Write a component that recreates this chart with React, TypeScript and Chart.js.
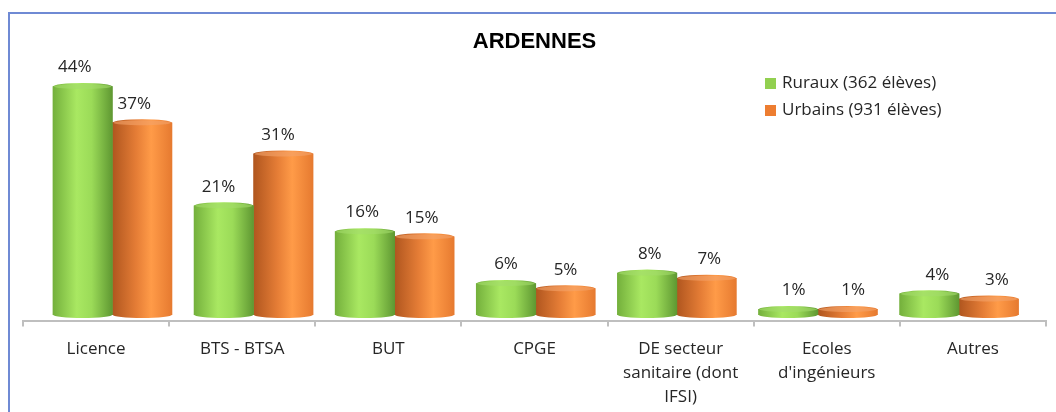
import React, { useEffect, useRef } from "react";
import { Chart, registerables } from "chart.js";

Chart.register(...registerables);

const categories: (string | string[])[] = [
  "Licence",
  "BTS - BTSA",
  "BUT",
  "CPGE",
  ["DE secteur", "sanitaire (dont", "IFSI)"],
  ["Ecoles", "d'ingénieurs"],
  "Autres",
];
const ruraux = [44, 21, 16, 6, 8, 1, 4];
const urbains = [37, 31, 15, 5, 7, 1, 3];
const seriesNames = ["Ruraux (362 élèves)", "Urbains (931 élèves)"];
const title = "ARDENNES";

const FONT = "'Open Sans', 'DejaVu Sans', sans-serif";

const palettes = [
  { stops: ["#74b03c", "#a9e862", "#9bdb58", "#5f9832"], cap: "#a4dc6a", legend: "#92d050" },
  { stops: ["#b0561f", "#e57d36", "#ff9b48", "#e67a30"], cap: "#f3a46a", legend: "#ed7d31" },
];

const cylinderPlugin = {
  id: "cylinder",
  beforeDatasetsDraw(chart: any) {
    const ctx = chart.ctx;
    chart.data.datasets.forEach((_ds: any, di: number) => {
      const meta = chart.getDatasetMeta(di);
      const p = palettes[di];
      meta.data.forEach((el: any) => {
        const w = el.width;
        const g = ctx.createLinearGradient(el.x - w / 2, 0, el.x + w / 2, 0);
        g.addColorStop(0, p.stops[0]);
        g.addColorStop(0.4, p.stops[1]);
        g.addColorStop(0.65, p.stops[2]);
        g.addColorStop(1, p.stops[3]);
        el.options = Object.assign({}, el.options, { backgroundColor: g, borderWidth: 0 });
        el.$grad = g;
      });
    });
  },
  afterDatasetsDraw(chart: any) {
    const ctx = chart.ctx;
    ctx.save();
    chart.data.datasets.forEach((ds: any, di: number) => {
      const meta = chart.getDatasetMeta(di);
      const p = palettes[di];
      meta.data.forEach((el: any, i: number) => {
        const w = el.width;
        const ry = 3.5;
        ctx.beginPath();
        ctx.ellipse(el.x, el.base, w / 2, ry, 0, 0, Math.PI);
        ctx.fillStyle = el.$grad;
        ctx.fill();
        ctx.beginPath();
        ctx.ellipse(el.x, el.y, w / 2, ry, 0, 0, Math.PI * 2);
        ctx.fillStyle = el.$grad;
        ctx.fill();
        ctx.beginPath();
        ctx.ellipse(el.x, el.y, w / 2 - 1, ry - 1, 0, 0, Math.PI * 2);
        ctx.fillStyle = p.cap;
        ctx.globalAlpha = 0.6;
        ctx.fill();
        ctx.globalAlpha = 1;
        const off = -8 + i * (16 / 6);
        ctx.fillStyle = "#262626";
        ctx.font = `17px ${FONT}`;
        ctx.textAlign = "center";
        ctx.textBaseline = "middle";
        ctx.fillText(`${ds.data[i].y}%`, el.x + off, el.y - 19);
      });
    });
    ctx.restore();
  },
  afterDraw(chart: any) {
    const ctx = chart.ctx;
    ctx.save();
    ctx.font = `17px ${FONT}`;
    ctx.textBaseline = "middle";
    ctx.textAlign = "left";
    seriesNames.forEach((name, i) => {
      const y = 83 + i * 27;
      ctx.fillStyle = palettes[i].legend;
      ctx.fillRect(765, y - 5, 11, 11);
      ctx.fillStyle = "#262626";
      ctx.fillText(name, 782, y);
    });
    ctx.restore();
  },
};

export default function App() {
  const ref = useRef<HTMLCanvasElement>(null);
  useEffect(() => {
    if (!ref.current) return;
    const chart = new Chart(ref.current, {
      type: "bar",
      data: {
        labels: categories as any,
        datasets: [
          {
            label: seriesNames[0],
            data: ruraux.map((v, i) => ({ x: i, y: v })) as any,
            backgroundColor: palettes[0].legend,
            xAxisID: "x",
            yAxisID: "y",
          },
          {
            label: seriesNames[1],
            data: urbains.map((v, i) => ({ x: i, y: v })) as any,
            backgroundColor: palettes[1].legend,
            xAxisID: "x",
            yAxisID: "y",
          },
        ],
      },
      options: {
        animation: false,
        responsive: false,
        maintainAspectRatio: false,
        layout: { padding: { left: 23, right: 10, top: 0, bottom: 0 } },
        datasets: { bar: { barThickness: 59.5 } },
        scales: {
          x: {
            type: "linear",
            display: false,
            offset: false,
            grid: { offset: false },
            min: -0.634,
            max: 6.616,
          },
          xCat: {
            type: "category",
            position: "bottom",
            offset: true,
            grid: {
              offset: true,
              drawOnChartArea: false,
              drawTicks: true,
              tickLength: 6,
              color: "#bfbfbf",
              lineWidth: 2,
            },
            border: { display: true, color: "#bfbfbf", width: 2 },
            ticks: {
              autoSkip: false,
              maxRotation: 0,
              padding: 11,
              color: "#262626",
              font: { family: FONT, size: 17, lineHeight: 1.4 },
            },
          },
          y: {
            display: false,
            min: -1.16,
            max: 50,
          },
        },
        plugins: {
          legend: { display: false },
          tooltip: { enabled: false },
          title: {
            display: true,
            text: title,
            color: "#000",
            font: { family: "'Liberation Sans', Arial, sans-serif", size: 22, weight: "bold" },
            padding: { top: 29, bottom: 0 },
          },
        },
      } as any,
      plugins: [cylinderPlugin],
    });
    return () => chart.destroy();
  }, []);
  return (
    <div style={{ position: "fixed", left: 0, top: 0, width: 1056, height: 412, background: "#fff", overflow: "hidden" }}>
      <div
        style={{
          position: "absolute",
          left: 8,
          top: 12,
          right: -4,
          bottom: -10,
          borderTop: "2px solid #6f8ad4",
          borderLeft: "2px solid #6f8ad4",
        }}
      />
      <canvas ref={ref} width={1056} height={420} style={{ position: "absolute", left: 0, top: 0 }} />
    </div>
  );
}
